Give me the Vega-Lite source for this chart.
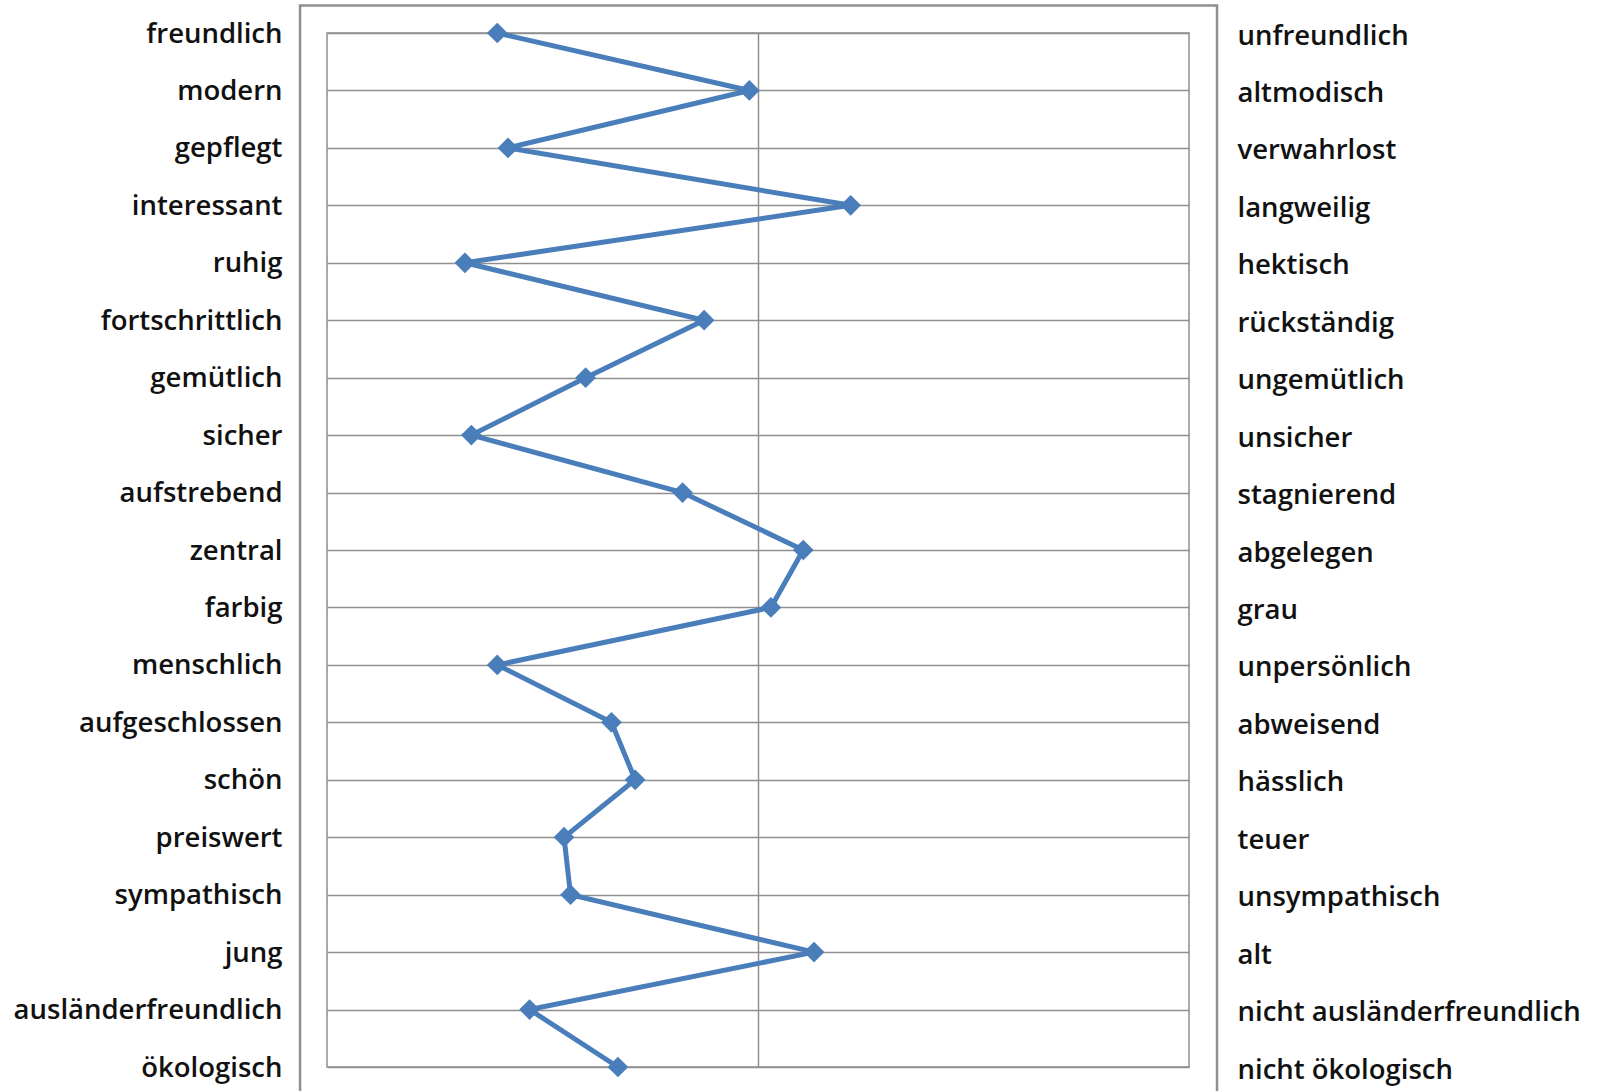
{
  "$schema": "https://vega.github.io/schema/vega-lite/v6.json",
  "autosize": {"type": "none"},
  "padding": {"left": 327, "top": 33, "right": 415, "bottom": 24},
  "width": 862,
  "height": 1034,
  "background": "white",
  "config": {
    "view": {"stroke": "#8f8f8f", "strokeWidth": 1.5},
    "font": "Open Sans"
  },
  "layer": [
    {
      "data": {"values": [{}]},
      "mark": {"type": "rect", "fill": null, "stroke": "#8f8f8f", "strokeWidth": 2.5, "clip": false},
      "encoding": {
        "x": {"datum": 0.875, "type": "quantitative", "scale": {"domain": [1, 5], "nice": false, "zero": false}},
        "x2": {"datum": 5.13},
        "y": {"datum": 0.52, "type": "quantitative", "scale": {"domain": [1, 19], "reverse": true, "nice": false, "zero": false}, "axis": null},
        "y2": {"datum": 21}
      }
    },
    {
      "data": {"name": "rows", "values": [
        {"idx": 1, "left": "freundlich", "right": "unfreundlich", "value": 1.79},
        {"idx": 2, "left": "modern", "right": "altmodisch", "value": 2.96},
        {"idx": 3, "left": "gepflegt", "right": "verwahrlost", "value": 1.84},
        {"idx": 4, "left": "interessant", "right": "langweilig", "value": 3.43},
        {"idx": 5, "left": "ruhig", "right": "hektisch", "value": 1.64},
        {"idx": 6, "left": "fortschrittlich", "right": "rückständig", "value": 2.75},
        {"idx": 7, "left": "gemütlich", "right": "ungemütlich", "value": 2.2},
        {"idx": 8, "left": "sicher", "right": "unsicher", "value": 1.67},
        {"idx": 9, "left": "aufstrebend", "right": "stagnierend", "value": 2.65},
        {"idx": 10, "left": "zentral", "right": "abgelegen", "value": 3.21},
        {"idx": 11, "left": "farbig", "right": "grau", "value": 3.06},
        {"idx": 12, "left": "menschlich", "right": "unpersönlich", "value": 1.79},
        {"idx": 13, "left": "aufgeschlossen", "right": "abweisend", "value": 2.32},
        {"idx": 14, "left": "schön", "right": "hässlich", "value": 2.43},
        {"idx": 15, "left": "preiswert", "right": "teuer", "value": 2.1},
        {"idx": 16, "left": "sympathisch", "right": "unsympathisch", "value": 2.13},
        {"idx": 17, "left": "jung", "right": "alt", "value": 3.26},
        {"idx": 18, "left": "ausländerfreundlich", "right": "nicht ausländerfreundlich", "value": 1.94},
        {"idx": 19, "left": "ökologisch", "right": "nicht ökologisch", "value": 2.35}
      ]},
      "encoding": {
        "x": {
          "field": "value", "type": "quantitative",
          "scale": {"domain": [1, 5], "nice": false, "zero": false},
          "axis": {"values": [3], "grid": true, "labels": false, "ticks": false, "domain": false, "title": null, "gridColor": "#8f8f8f", "gridWidth": 1.5}
        },
        "y": {
          "field": "left", "type": "nominal", "sort": {"field": "idx"},
          "scale": {"type": "point", "padding": 0},
          "axis": {"orient": "left", "grid": true, "ticks": false, "domain": false, "title": null,
                   "labelFont": "Open Sans", "labelFontSize": 27.5, "labelFontWeight": 600, "labelColor": "#111111",
                   "labelPadding": 45, "labelLimit": 0, "labelOffset": 1,
                   "gridColor": "#8f8f8f", "gridWidth": 1.5}
        }
      },
      "layer": [
        {
          "mark": {"type": "line", "color": "#4A7EBB", "strokeWidth": 5},
          "encoding": {"order": {"field": "idx", "type": "quantitative"}}
        },
        {
          "mark": {"type": "point", "shape": "diamond", "filled": true, "size": 430, "color": "#4A7EBB", "opacity": 1},
          "encoding": {}
        }
      ]
    },
    {
      "data": {"name": "rows"},
      "mark": {"type": "point", "opacity": 0},
      "encoding": {
        "x": {"field": "value", "type": "quantitative"},
        "y": {
          "field": "right", "type": "nominal", "sort": {"field": "idx"},
          "scale": {"type": "point", "padding": 0},
          "axis": {"orient": "right", "grid": false, "ticks": false, "domain": false, "title": null,
                   "labelFont": "Open Sans", "labelFontSize": 27.5, "labelFontWeight": 600, "labelColor": "#111111",
                   "labelPadding": 48, "labelLimit": 0, "labelAlign": "left", "labelOffset": 3}
        }
      }
    }
  ],
  "resolve": {"scale": {"y": "independent"}, "axis": {"y": "independent"}}
}
